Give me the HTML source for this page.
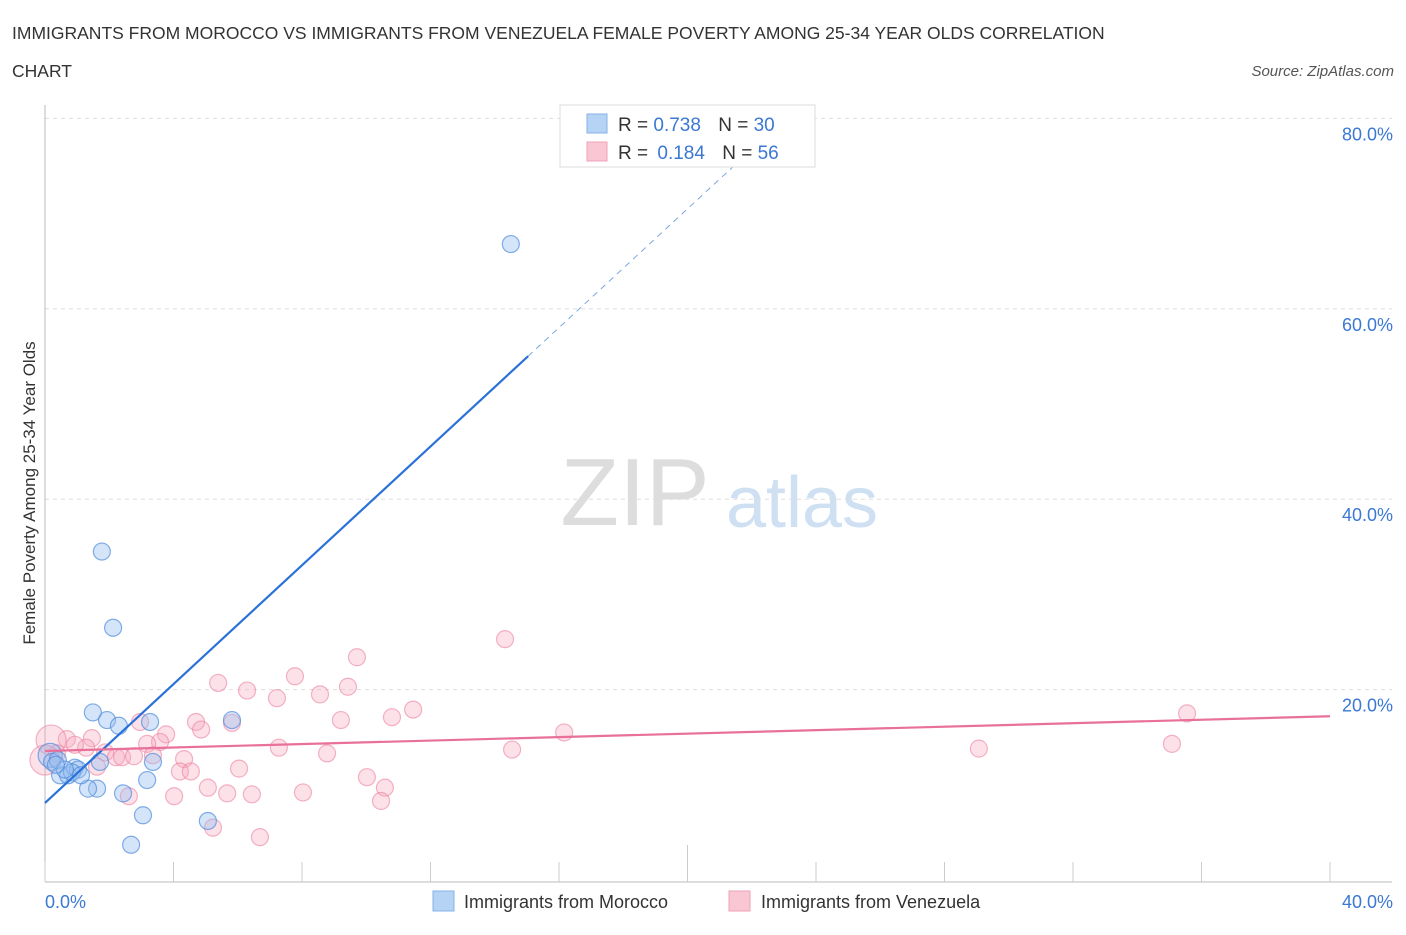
<!DOCTYPE html>
<html><head><meta charset="utf-8"><style>
body{margin:0;background:#fff;font-family:"Liberation Sans",sans-serif}
svg text{font-family:"Liberation Sans",sans-serif}
</style></head><body>
<svg width="1406" height="930" xmlns="http://www.w3.org/2000/svg">
<text x="12" y="39" font-size="17.5" fill="#333">IMMIGRANTS FROM MOROCCO VS IMMIGRANTS FROM VENEZUELA FEMALE POVERTY AMONG 25-34 YEAR OLDS CORRELATION</text>
<text x="12" y="77" font-size="17.5" fill="#333">CHART</text>
<text x="1394" y="76" font-size="15" fill="#555" font-style="italic" text-anchor="end">Source: ZipAtlas.com</text>
<g>
<text x="635" y="525" font-size="96" fill="#ddd" font-family="Liberation Serif,serif" text-anchor="middle">ZIP</text>
<text x="802" y="527" font-size="72" fill="#cfe0f3" text-anchor="middle">atlas</text>
</g>
<g id="grid"></g>
<g id="axes"></g>
<g id="marks"></g>
<text x="35" y="493" font-size="17" fill="#333" text-anchor="middle" transform="rotate(-90 35 493)">Female Poverty Among 25-34 Year Olds</text>
<g>
<rect x="560" y="105" width="255" height="62" fill="#fff" stroke="#ddd"/>
<rect x="587" y="114" width="20" height="19" fill="#b5d3f5" stroke="#85b2e8"/>
<rect x="587" y="142" width="20" height="19" fill="#f9c6d4" stroke="#f0a0b8"/>
<text x="618" y="131" font-size="19" fill="#333">R = <tspan fill="#3a78d4">0.738</tspan>  <tspan dx="12">N = </tspan><tspan fill="#3a78d4">30</tspan></text>
<text x="618" y="159" font-size="19" fill="#333">R = <tspan dx="4" fill="#3a78d4">0.184</tspan>  <tspan dx="12">N = </tspan><tspan fill="#3a78d4">56</tspan></text>
</g>
<g>
<rect x="433" y="891" width="21" height="20" fill="#b5d3f5" stroke="#85b2e8"/>
<text x="464" y="908" font-size="18" fill="#333">Immigrants from Morocco</text>
<rect x="729" y="891" width="21" height="20" fill="#f9c6d4" stroke="#f0a0b8"/>
<text x="761" y="908" font-size="18" fill="#333">Immigrants from Venezuela</text>
</g>
</svg>
<script>
const yTicks=[20,40,60,80];
const yTickLabels=["20.0%","40.0%","60.0%","80.0%"];
const xEndLabels=["0.0%","40.0%"];
const xTickVals=[0,4,8,12,16,20,24,28,32,36,40];
const moroccoX=[14.5,1.77,2.12,1.49,1.93,2.30,3.27,5.82,3.36,3.18,2.43,1.62,1.34,3.05,2.68,5.07,0.16,0.22,0.47,0.72,0.93,1.03,0.40,0.84,1.71,1.12,0.62,0.34];
const moroccoY=[66.8,34.5,26.5,17.6,16.8,16.2,16.6,16.8,12.4,10.5,9.1,9.6,9.6,6.8,3.7,6.2,13.1,12.4,11.0,11.0,11.8,11.6,12.6,11.3,12.4,11.0,11.6,12.1];
const venezX=[5.39,6.29,7.22,7.78,8.56,9.43,9.71,9.21,10.8,11.46,4.70,4.86,2.96,5.82,7.28,8.78,6.04,4.33,4.20,4.54,5.07,5.67,6.44,8.03,10.02,10.58,10.46,4.02,2.61,5.23,6.69,3.77,3.58,3.18,1.46,0.68,1.28,1.87,2.21,2.40,2.77,3.36,1.62,0.19,0.37,14.32,16.16,14.54,29.07,35.08,35.55,0.93,0.0];
const venezY=[20.7,19.9,19.1,21.4,19.5,20.3,23.4,16.8,17.1,17.9,16.6,15.8,16.6,16.5,13.9,13.3,11.7,12.7,11.4,11.4,9.7,9.1,9.0,9.2,10.8,9.7,8.3,8.8,8.8,5.5,4.5,15.3,14.5,14.3,14.9,14.8,13.9,13.4,12.9,12.9,13.0,13.1,11.9,14.7,13.3,25.3,15.5,13.7,13.8,14.3,17.5,14.2,12.6];
const moroccoTrend=[8.1,3.12,15.04,21.5]; // intercept, slope, solid end x, dashed end x
const venezTrend=[13.55,17.2]; // y at x=0, y at x=40
const NS="http://www.w3.org/2000/svg";
const X=v=>45+v*32.125, Y=v=>880-v*9.52;
function mk(parent,tag,attrs){const e=document.createElementNS(NS,tag);for(const k in attrs)e.setAttribute(k,attrs[k]);document.getElementById(parent).appendChild(e);return e;}
yTicks.forEach((t,i)=>{
 const g=mk('grid','line',{x1:45,x2:1392,y1:Y(t),y2:Y(t),stroke:'#ddd','stroke-dasharray':'4,4'});
 
 
 const l=mk('axes','text',{x:1393,y:Y(t)+22,'font-size':18,fill:'#3a78d4','text-anchor':'end'});
 l.textContent=yTickLabels[i];
 
 
});
const ya=mk('axes','line',{x1:45,x2:45,y1:105,y2:882,stroke:'#bbb'});


const xa=mk('axes','line',{x1:45,x2:1392,y1:882,y2:882,stroke:'#bbb'});


xTickVals.forEach(v=>{
 const t=mk('axes','line',{x1:X(v),x2:X(v),y1:v===20?845:862,y2:882,stroke:'#ccc'});
 
 
});
const xl0=mk('axes','text',{x:45,y:908,'font-size':18,fill:'#3a78d4'});xl0.textContent=xEndLabels[0];


const xl1=mk('axes','text',{x:1393,y:908,'font-size':18,fill:'#3a78d4','text-anchor':'end'});xl1.textContent=xEndLabels[1];


venezX.forEach((x,i)=>{
 const big=(x<0.3);
 const c=mk('marks','circle',{cx:X(x),cy:Y(venezY[i]),r:big?15:8.5,fill:'rgba(246,170,192,0.35)',stroke:'rgba(236,130,160,0.6)','stroke-width':1.2});
 
 
});
moroccoX.forEach((x,i)=>{
 const big=(x<0.2);
 const c=mk('marks','circle',{cx:X(x),cy:Y(moroccoY[i]),r:big?12:8.5,fill:'rgba(150,190,240,0.4)',stroke:'rgba(80,140,220,0.7)','stroke-width':1.2});
 
 
});
const [b0,b1,bs,bd]=moroccoTrend;
const t1=mk('marks','line',{x1:X(0),y1:Y(b0),x2:X(bs),y2:Y(b0+b1*bs),stroke:'#2a72d8','stroke-width':2.2});


const t2=mk('marks','line',{x1:X(bs),y1:Y(b0+b1*bs),x2:X(bd),y2:Y(b0+b1*bd),stroke:'#7aa8e0','stroke-width':1,'stroke-dasharray':'6,5'});


const t3=mk('marks','line',{x1:X(0),y1:Y(venezTrend[0]),x2:X(40),y2:Y(venezTrend[1]),stroke:'#e8709a','stroke-width':2.2});


</script>
</body></html>
